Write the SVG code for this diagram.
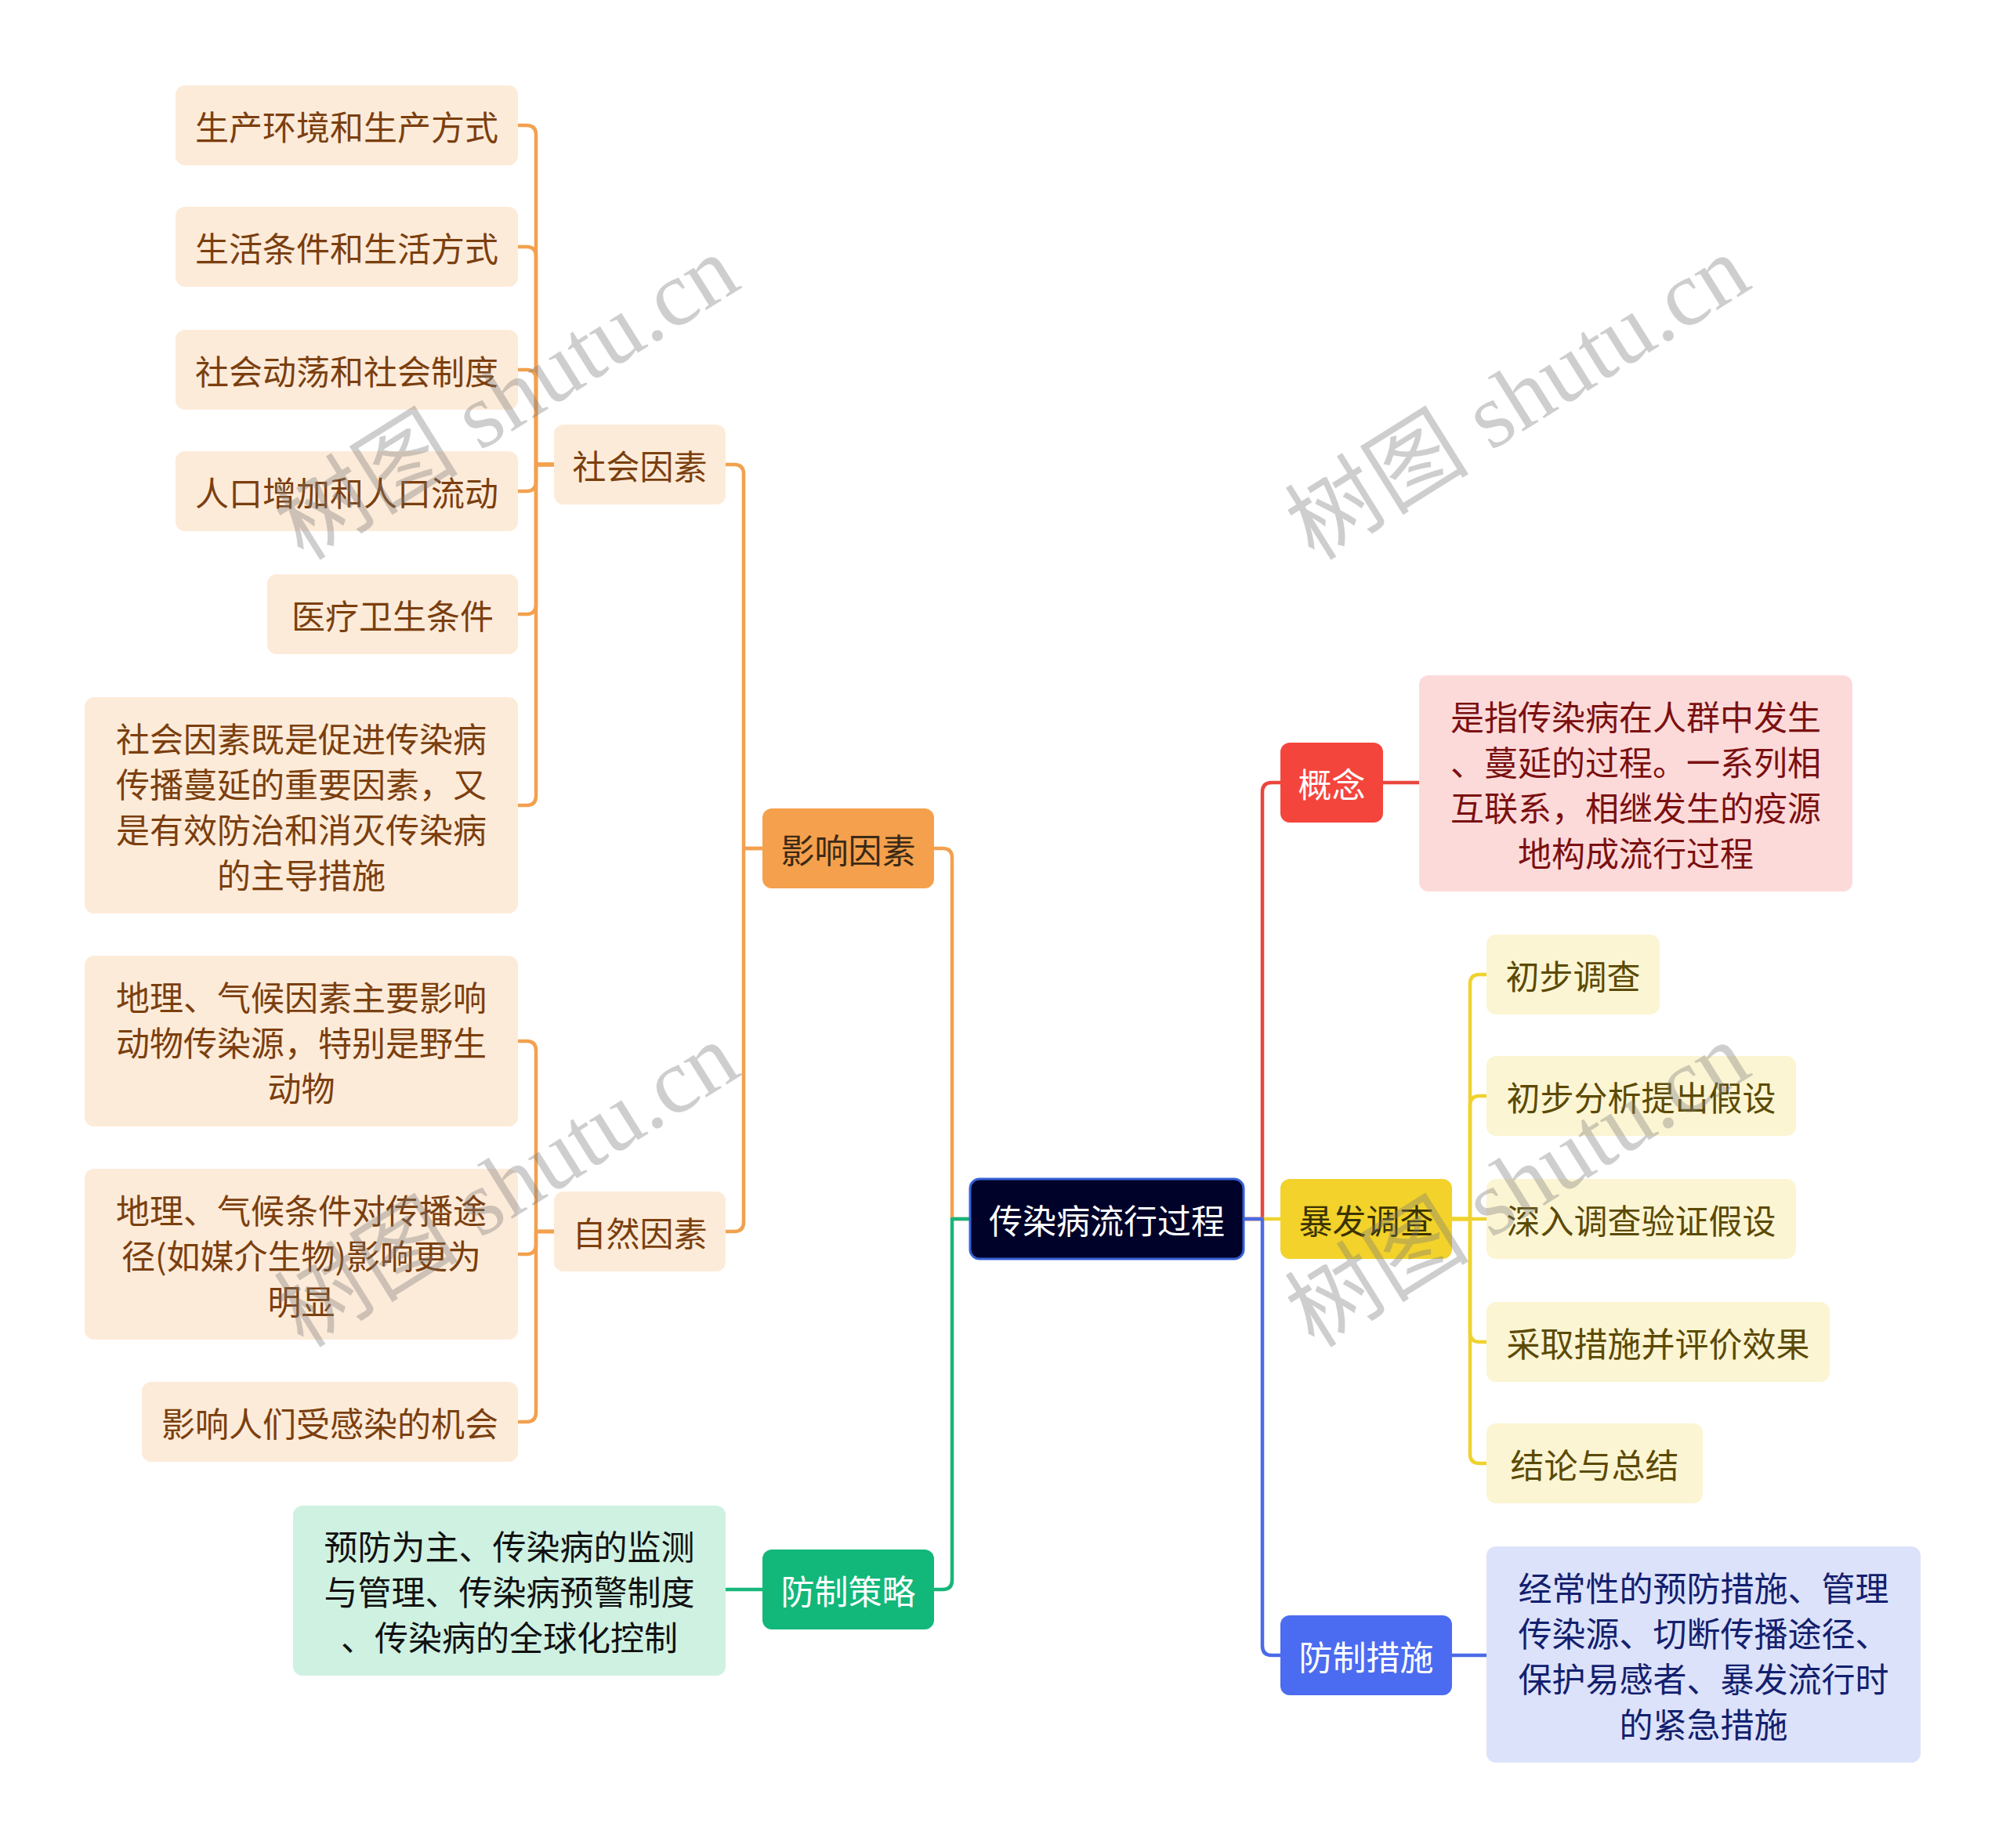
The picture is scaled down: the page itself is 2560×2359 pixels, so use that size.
<svg xmlns="http://www.w3.org/2000/svg" width="2560" height="2359" viewBox="0 0 2560 2359">
<style>
text{font-family:"Noto Sans CJK SC","Noto Sans",sans-serif;font-size:43px;text-anchor:middle;dominant-baseline:central}
.c{fill:none;stroke-width:4.5;stroke-linecap:round;stroke-linejoin:round}
.co{stroke:#f2a14f}.cg{stroke:#17b67b}.cr{stroke:#ea463e}.cy{stroke:#f0d22e}.cb{stroke:#4b6ae8}
.lo{fill:#fdebd9}.to{fill:#7b3f0f}
.wm{font-family:"Liberation Serif","Noto Sans CJK SC",serif;font-size:118px;fill:#7a7a7a;opacity:0.36;text-anchor:middle}
</style>
<rect width="2560" height="2359" fill="#ffffff"/>
<g id="connectors">
<path class="c co" d="M707,593 H684 V172 Q684,160 672,160 H661"/>
<path class="c co" d="M707,593 H684 V327 Q684,315 672,315 H661"/>
<path class="c co" d="M707,593 H684 V484 Q684,472 672,472 H661"/>
<path class="c co" d="M707,593 H684 V615 Q684,627 672,627 H661"/>
<path class="c co" d="M707,593 H684 V772 Q684,784 672,784 H661"/>
<path class="c co" d="M707,593 H684 V1016 Q684,1028 672,1028 H661"/>
<path class="c co" d="M707,1572 H684 V1341 Q684,1329 672,1329 H661"/>
<path class="c co" d="M707,1572 H684 V1589 Q684,1601 672,1601 H661"/>
<path class="c co" d="M707,1572 H684 V1803 Q684,1815 672,1815 H661"/>
<path class="c co" d="M973,1083 H949 V605 Q949,593 937,593 H926"/>
<path class="c co" d="M973,1083 H949 V1560 Q949,1572 937,1572 H926"/>
<path class="c co" d="M1238,1556 H1215 V1095 Q1215,1083 1203,1083 H1192"/>
<path class="c cg" d="M1238,1556 H1215 V2017 Q1215,2029 1203,2029 H1192"/>
<path class="c cg" d="M973,2029 H926"/>
<path class="c cr" d="M1587,1556 H1611 V1011 Q1611,999 1623,999 H1634"/>
<path class="c cy" d="M1587,1556 H1634"/>
<path class="c cb" d="M1587,1556 H1611 V2101 Q1611,2113 1623,2113 H1634"/>
<path class="c cr" d="M1765,999 H1811"/>
<path class="c cy" d="M1853,1556 H1876 V1256 Q1876,1244 1888,1244 H1897"/>
<path class="c cy" d="M1853,1556 H1876 V1411 Q1876,1399 1888,1399 H1897"/>
<path class="c cy" d="M1853,1556 H1897"/>
<path class="c cy" d="M1853,1556 H1876 V1701 Q1876,1713 1888,1713 H1897"/>
<path class="c cy" d="M1853,1556 H1876 V1856 Q1876,1868 1888,1868 H1897"/>
<path class="c cb" d="M1853,2113 H1897"/>
</g>
<g id="root">
<rect x="1238" y="1505" width="349" height="102" rx="12" fill="#000229" stroke="#3560d4" stroke-width="3"/>
<text x="1412.5" y="1556" fill="#ffffff">传染病流行过程</text>
</g>
<g id="n-yingxiang">
<rect x="973" y="1032" width="219" height="102" rx="12" fill="#f5a04c"/>
<text x="1082.5" y="1083" fill="#3b2a17">影响因素</text>
</g>
<g id="n-shehui">
<rect class="lo" x="707" y="542" width="219" height="102" rx="12"/>
<text class="to" x="816.5" y="593">社会因素</text>
</g>
<g id="n-ziran">
<rect class="lo" x="707" y="1521" width="219" height="102" rx="12"/>
<text class="to" x="816.5" y="1572">自然因素</text>
</g>
<g id="s1">
<rect class="lo" x="224" y="109" width="437" height="102" rx="12"/>
<text class="to" x="442.5" y="160">生产环境和生产方式</text>
</g>
<g id="s2">
<rect class="lo" x="224" y="264" width="437" height="102" rx="12"/>
<text class="to" x="442.5" y="315">生活条件和生活方式</text>
</g>
<g id="s3">
<rect class="lo" x="224" y="421" width="437" height="102" rx="12"/>
<text class="to" x="442.5" y="472">社会动荡和社会制度</text>
</g>
<g id="s4">
<rect class="lo" x="224" y="576" width="437" height="102" rx="12"/>
<text class="to" x="442.5" y="627">人口增加和人口流动</text>
</g>
<g id="s5">
<rect class="lo" x="341" y="733" width="320" height="102" rx="12"/>
<text class="to" x="501" y="784">医疗卫生条件</text>
</g>
<g id="s6">
<rect class="lo" x="108" y="890" width="553" height="276" rx="12"/>
<text class="to" x="384.5" y="941">社会因素既是促进传染病</text>
<text class="to" x="384.5" y="999">传播蔓延的重要因素，又</text>
<text class="to" x="384.5" y="1057">是有效防治和消灭传染病</text>
<text class="to" x="384.5" y="1115">的主导措施</text>
</g>
<g id="z1">
<rect class="lo" x="108" y="1220" width="553" height="218" rx="12"/>
<text class="to" x="384.5" y="1271">地理、气候因素主要影响</text>
<text class="to" x="384.5" y="1329">动物传染源，特别是野生</text>
<text class="to" x="384.5" y="1387">动物</text>
</g>
<g id="z2">
<rect class="lo" x="108" y="1492" width="553" height="218" rx="12"/>
<text class="to" x="384.5" y="1543">地理、气候条件对传播途</text>
<text class="to" x="384.5" y="1601">径(如媒介生物)影响更为</text>
<text class="to" x="384.5" y="1659">明显</text>
</g>
<g id="z3">
<rect class="lo" x="181" y="1764" width="480" height="102" rx="12"/>
<text class="to" x="421" y="1815">影响人们受感染的机会</text>
</g>
<g id="n-celue">
<rect x="973" y="1978" width="219" height="102" rx="12" fill="#12b77a"/>
<text x="1082.5" y="2029" fill="#ffffff">防制策略</text>
</g>
<g id="celue-leaf">
<rect x="374" y="1922" width="552" height="217" rx="12" fill="#cff1e2"/>
<text x="650" y="1972" fill="#111111">预防为主、传染病的监测</text>
<text x="650" y="2030" fill="#111111">与管理、传染病预警制度</text>
<text x="650" y="2088" fill="#111111">、传染病的全球化控制</text>
</g>
<g id="n-gainian">
<rect x="1634" y="948" width="131" height="102" rx="12" fill="#f4453d"/>
<text x="1699.5" y="999" fill="#ffffff">概念</text>
</g>
<g id="gainian-leaf">
<rect x="1811" y="862" width="553" height="276" rx="12" fill="#fddada"/>
<text x="2087.5" y="913" fill="#7b1010">是指传染病在人群中发生</text>
<text x="2087.5" y="971" fill="#7b1010">、蔓延的过程。一系列相</text>
<text x="2087.5" y="1029" fill="#7b1010">互联系，相继发生的疫源</text>
<text x="2087.5" y="1087" fill="#7b1010">地构成流行过程</text>
</g>
<g id="n-baofa">
<rect x="1634" y="1505" width="219" height="102" rx="12" fill="#f2d22b"/>
<text x="1743.5" y="1556" fill="#3b3200">暴发调查</text>
</g>
<g id="b1">
<rect x="1897" y="1193" width="221" height="102" rx="12" fill="#fcf5d3"/>
<text x="2007.5" y="1244" fill="#5b4a05">初步调查</text>
</g>
<g id="b2">
<rect x="1897" y="1348" width="395" height="102" rx="12" fill="#fcf5d3"/>
<text x="2094.5" y="1399" fill="#5b4a05">初步分析提出假设</text>
</g>
<g id="b3">
<rect x="1897" y="1505" width="395" height="102" rx="12" fill="#fcf5d3"/>
<text x="2094.5" y="1556" fill="#5b4a05">深入调查验证假设</text>
</g>
<g id="b4">
<rect x="1897" y="1662" width="438" height="102" rx="12" fill="#fcf5d3"/>
<text x="2116" y="1713" fill="#5b4a05">采取措施并评价效果</text>
</g>
<g id="b5">
<rect x="1897" y="1817" width="276" height="102" rx="12" fill="#fcf5d3"/>
<text x="2035" y="1868" fill="#5b4a05">结论与总结</text>
</g>
<g id="n-cuoshi">
<rect x="1634" y="2062" width="219" height="102" rx="12" fill="#4b6cf0"/>
<text x="1743.5" y="2113" fill="#ffffff">防制措施</text>
</g>
<g id="cuoshi-leaf">
<rect x="1897" y="1974" width="554" height="276" rx="12" fill="#dce2fa"/>
<text x="2174" y="2025" fill="#13206e">经常性的预防措施、管理</text>
<text x="2174" y="2083" fill="#13206e">传染源、切断传播途径、</text>
<text x="2174" y="2141" fill="#13206e">保护易感者、暴发流行时</text>
<text x="2174" y="2199" fill="#13206e">的紧急措施</text>
</g>
<g id="watermarks">
<text class="wm" transform="translate(647,508) rotate(-32)">树图 shutu.cn</text>
<text class="wm" transform="translate(1937,508) rotate(-32)">树图 shutu.cn</text>
<text class="wm" transform="translate(647,1513) rotate(-32)">树图 shutu.cn</text>
<text class="wm" transform="translate(1937,1513) rotate(-32)">树图 shutu.cn</text>
</g>
</svg>
